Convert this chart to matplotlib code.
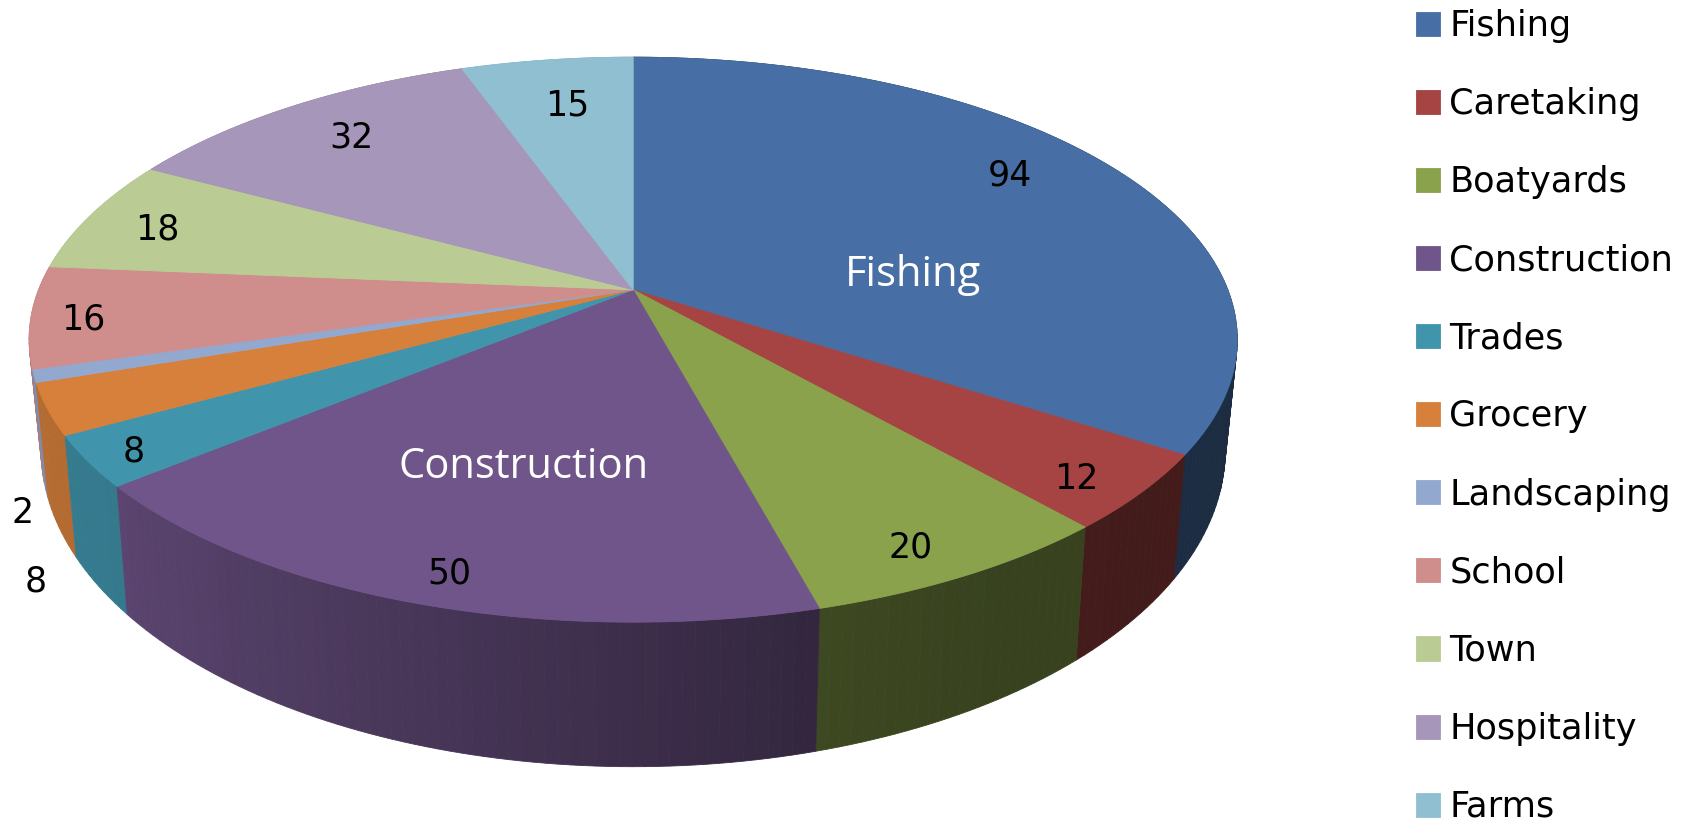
import numpy as np
import matplotlib
matplotlib.use("Agg")
import matplotlib.pyplot as plt
from matplotlib.patches import Polygon

categories = ["Fishing", "Caretaking", "Boatyards", "Construction", "Trades", "Grocery",
              "Landscaping", "School", "Town", "Hospitality", "Farms"]
values = [94, 12, 20, 50, 8, 8, 2, 16, 18, 32, 15]
value_labels = ["94", "12", "20", "50", "8", "8", "2", "16", "18", "32", "15"]
colors = ["#476fa5", "#a54442", "#89a24b", "#70558a", "#4094ac", "#d7803b",
          "#93a8cf", "#cf8d8c", "#bacc94", "#a696b9", "#90bfd2"]

# layout (pixels)
W, H = 1683, 819
CX, CY, A, B, K = 633.2, 289.8, 594.6, 273.7, 0.1765
Y2, A2, B2 = 393.9, 582.8, 307.0
label_xy = [(1010, 176), (1076, 479), (911, 548), (449, 574), (134, 452), (36, 581),
            (23, 513), (83, 319), (157, 229), (351, 137), (567, 105)]
inside_names = {"Fishing": (913, 275), "Construction": (524, 467)}


def top(theta):
    t = np.radians(theta)
    d = 1 + K * np.cos(t)
    return CX + A * np.sin(t) / d, CY - B * np.cos(t) / d


def bottom(theta):
    t = np.radians(theta)
    d = 1 + K * np.cos(t)
    return CX + A2 * np.sin(t) / d, Y2 - B2 * np.cos(t) / d


def shade(theta):
    return np.interp(theta, [0, 100, 150, 165, 173, 196, 232, 255, 360],
                     [0.39, 0.39, 0.41, 0.45, 0.50, 0.63, 0.82, 0.85, 0.85])


fig = plt.figure(figsize=(W / 100, H / 100), dpi=100, facecolor="white")
ax = fig.add_axes([0, 0, 1, 1])
ax.set_xlim(0, W)
ax.set_ylim(H, 0)
ax.axis("off")

edges = np.cumsum([0] + values) / sum(values) * 360

# side wall, far strips first
strips = []
for i, c in enumerate(colors):
    n = max(2, int((edges[i + 1] - edges[i]) / 1.0))
    th = np.linspace(edges[i], edges[i + 1], n + 1)
    for a, b in zip(th[:-1], th[1:]):
        strips.append((a, b, c))
strips.sort(key=lambda s: -np.cos(np.radians((s[0] + s[1]) / 2)))
for a, b, c in strips:
    s = shade((a + b) / 2)
    rgb = np.array(matplotlib.colors.to_rgb(c)) * s
    xt, yt = top(np.array([a, b]))
    xb, yb = bottom(np.array([b, a]))
    ax.add_patch(Polygon(np.c_[np.r_[xt, xb], np.r_[yt, yb]], closed=True,
                         facecolor=rgb, edgecolor=rgb, linewidth=0.6))

# top surface
for i, (name, c) in enumerate(zip(categories, colors)):
    th = np.linspace(edges[i], edges[i + 1], 80)
    x, y = top(th)
    ax.add_patch(Polygon(np.c_[np.r_[CX, x], np.r_[CY, y]], closed=True,
                         facecolor=c, edgecolor=c, linewidth=0.6, label=name))

for txt, (x, y) in zip(value_labels, label_xy):
    ax.text(x, y, txt, ha="center", va="center", fontsize=25, color="black",
            family="DejaVu Sans")
for name, (x, y) in inside_names.items():
    ax.text(x, y, name, ha="center", va="center", fontsize=30, color="white",
            family="Open Sans")

ax.legend(loc="upper left", bbox_to_anchor=(1416 / W, 1 - 9 / H), frameon=False,
          prop={"family": "DejaVu Sans", "size": 25.3}, handlelength=0.68, handleheight=0.68,
          handletextpad=0.27, labelspacing=1.255, borderpad=0, borderaxespad=0)

fig.savefig("out.png", dpi=100, facecolor="white")
